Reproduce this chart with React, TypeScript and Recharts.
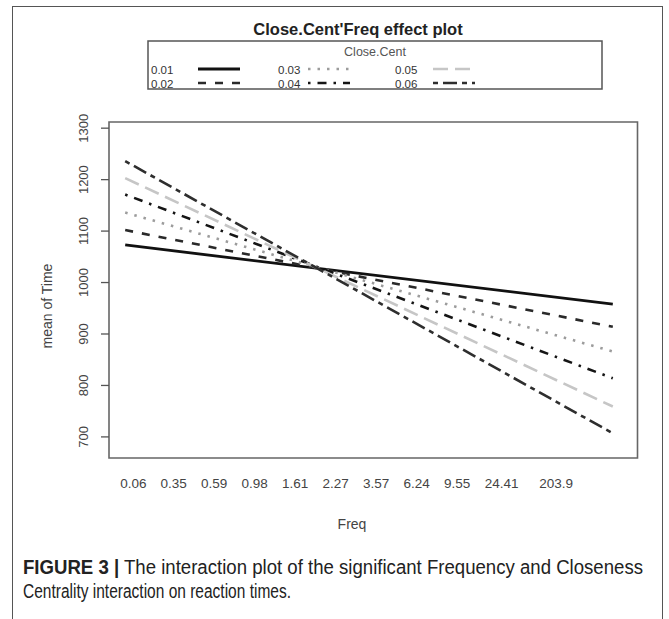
import React from 'react';
import { LineChart, Line, XAxis, YAxis, ReferenceArea, Legend } from 'recharts';

// ---- data ----
const closeCentLevels = ['0.01', '0.02', '0.03', '0.04', '0.05', '0.06'];
const seriesKeys = ['s1', 's2', 's3', 's4', 's5', 's6'];
const freqTickLabels = ['0.06', '0.35', '0.59', '0.98', '1.61', '2.27', '3.57', '6.24', '9.55', '24.41', '203.9'];
const freqTickPos = [0, 1, 2, 3, 4, 5, 6, 7, 8, 9.1, 10.45];
const lineStartX = -0.2;
const lineEndX = 11.85;
const startValues = [1073, 1102, 1136, 1171, 1203, 1236];
const endValues = [958, 914, 866, 814, 759, 707];
const yTicks = [700, 800, 900, 1000, 1100, 1200, 1300];
const xDomain = [-0.6, 12.46];
const yDomain = [659, 1312];

// ---- styles ----
const lineColors = ['#111111', '#2a2a2a', '#9c9c9c', '#151515', '#c6c6c6', '#2e2e2e'];
const lineDash = ['', '8 9', '2.5 7', '2.5 7 9 7', '15 7', '5 5 14 5'];
const lineWidth = [2.8, 2.6, 2.6, 2.6, 2.6, 2.6];

const rows = [
  Object.assign({ x: lineStartX }, Object.fromEntries(seriesKeys.map((k, i) => [k, startValues[i]]))),
  Object.assign({ x: lineEndX }, Object.fromEntries(seriesKeys.map((k, i) => [k, endValues[i]]))),
];

const FONT = '"Liberation Sans", Arial, Helvetica, sans-serif';
const CAPFONT = '"Liberation Sans Narrow", "Liberation Sans", Arial, sans-serif';
const TXT = '#444';

const YTick = (props: any) => {
  const { x, y, payload } = props;
  return (
    <text x={x} y={y} transform={`rotate(-90 ${x} ${y})`} textAnchor="middle" fontSize={13} fill={TXT} fontFamily={FONT}>
      {payload.value}
    </text>
  );
};

const LegendBox = () => {
  const colX = [3, 130, 247];
  const sampleX = [50, 160, 285];
  const sampleW = 42;
  const rowBase = [32.5, 46.5];
  return (
    <svg width={454} height={48} style={{ display: 'block', overflow: 'visible' }}>
      <rect x={0} y={0} width={454} height={48} fill="#fff" stroke="#555" strokeWidth={1.5} />
      <text x={227} y={15} textAnchor="middle" fontSize={12.5} fill="#555" fontFamily={FONT}>Close.Cent</text>
      {closeCentLevels.map((lvl, i) => {
        const col = Math.floor(i / 2);
        const row = i % 2;
        const yb = rowBase[row];
        return (
          <g key={lvl}>
            <text x={colX[col]} y={yb} fontSize={11.5} fill="#333" fontFamily={FONT}>{lvl}</text>
            <line
              x1={sampleX[col]}
              x2={sampleX[col] + sampleW}
              y1={yb - 4.5}
              y2={yb - 4.5}
              stroke={lineColors[i]}
              strokeWidth={lineWidth[i]}
              strokeDasharray={lineDash[i] || undefined}
            />
          </g>
        );
      })}
    </svg>
  );
};

export default function App() {
  return (
    <div style={{ position: 'absolute', left: 0, top: 0, width: 669, height: 619, background: '#fff', overflow: 'hidden', fontFamily: FONT }}>
      <div style={{ position: 'absolute', left: 12, top: 6, width: 651, height: 700, border: '1.5px solid #555', boxSizing: 'border-box' }} />
      <div style={{ position: 'absolute', left: 0, top: 20, width: 716, textAlign: 'center', fontWeight: 'bold', fontSize: 16.5, lineHeight: '19px', color: '#222' }}>
        Close.Cent'Freq effect plot
      </div>
      <div style={{ position: 'absolute', left: 0, top: 0 }}>
        <LineChart width={669} height={619} data={rows} margin={{ top: 122, right: 31.5, bottom: 121, left: 9 }}>
          <XAxis
            dataKey="x"
            type="number"
            domain={xDomain}
            allowDataOverflow
            ticks={freqTickPos}
            tickFormatter={(v: number) => freqTickLabels[freqTickPos.indexOf(v)] ?? ''}
            axisLine={false}
            tickLine={false}
            tickSize={0}
            tickMargin={20}
            height={40}
            interval={0}
            tick={{ fontSize: 13.5, fill: TXT, fontFamily: FONT }}
          />
          <YAxis
            type="number"
            domain={yDomain}
            allowDataOverflow
            ticks={yTicks}
            width={100}
            axisLine={false}
            tickLine={{ stroke: '#555', strokeWidth: 1.3 }}
            tickSize={8}
            tickMargin={13}
            interval={0}
            tick={<YTick />}
          />
          <ReferenceArea x1={xDomain[0]} x2={xDomain[1]} y1={yDomain[0]} y2={yDomain[1]} fill="none" stroke="#666" strokeWidth={1.6} />
          {seriesKeys.map((k, i) => (
            <Line
              key={k}
              dataKey={k}
              name={closeCentLevels[i]}
              type="linear"
              stroke={lineColors[i]}
              strokeWidth={lineWidth[i]}
              strokeDasharray={lineDash[i] || undefined}
              dot={false}
              activeDot={false}
              isAnimationActive={false}
            />
          ))}
          <Legend
            layout="horizontal"
            verticalAlign="middle"
            align="center"
            content={() => <LegendBox />}
            wrapperStyle={{ position: 'absolute', left: 148, top: 41, width: 454, height: 48 }}
          />
        </LineChart>
      </div>
      <svg width={669} height={619} style={{ position: 'absolute', left: 0, top: 0, pointerEvents: 'none' }}>
        <text x={47} y={306} transform="rotate(-90 47 306)" textAnchor="middle" dominantBaseline="central" fontSize={14} fill={TXT} fontFamily={FONT}>
          mean of  Time
        </text>
        <text x={352} y={529} textAnchor="middle" fontSize={14} fill={TXT} fontFamily={FONT}>Freq</text>
        <text x={23} y={574} fontSize={19.5} fill="#222" fontFamily={CAPFONT} textLength={620} lengthAdjust="spacingAndGlyphs">
          <tspan fontWeight="bold">FIGURE 3 |</tspan> The interaction plot of the significant Frequency and Closeness
        </text>
        <text x={23} y={598} fontSize={19.5} fill="#222" fontFamily={CAPFONT} textLength={268} lengthAdjust="spacingAndGlyphs">
          Centrality interaction on reaction times.
        </text>
      </svg>
    </div>
  );
}
